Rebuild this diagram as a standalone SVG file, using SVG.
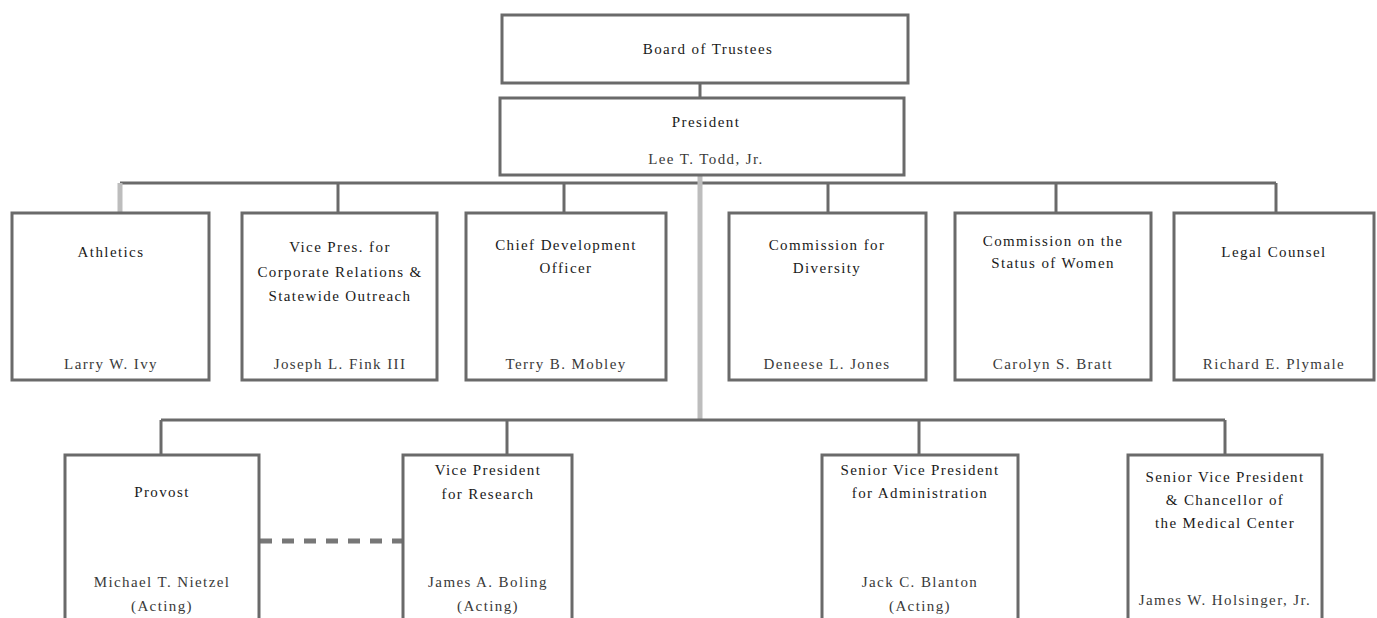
<svg xmlns="http://www.w3.org/2000/svg" width="1377" height="618" viewBox="0 0 1377 618">
<style>
.box{fill:#fff;stroke:#6a6a6a;stroke-width:3}
.ln{stroke:#6a6a6a;stroke-width:3;fill:none}
.lg{stroke:#bdbdbd;stroke-width:5;fill:none}
.dash{stroke:#777;stroke-width:5;stroke-dasharray:12,10;fill:none}
text{font-family:"Liberation Serif","Times New Roman",serif;font-size:15px;letter-spacing:1.4px;text-anchor:middle}
.t{fill:#1a1a1a}
.n{fill:#3a3a3a}
</style>
<rect width="1377" height="618" fill="#fff"/>
<g id="connectors">
<line class="ln" x1="700" y1="83" x2="700" y2="98"/>
<line class="ln" x1="120" y1="183" x2="1276" y2="183"/>
<line class="lg" x1="120" y1="183" x2="120" y2="213"/>
<line class="ln" x1="338" y1="183" x2="338" y2="213"/>
<line class="ln" x1="564" y1="183" x2="564" y2="213"/>
<line class="ln" x1="828" y1="183" x2="828" y2="213"/>
<line class="ln" x1="1056" y1="183" x2="1056" y2="213"/>
<line class="ln" x1="1276" y1="183" x2="1276" y2="213"/>
<line class="lg" x1="700" y1="175" x2="700" y2="420"/>
<line class="ln" x1="161" y1="420" x2="1225" y2="420"/>
<line class="ln" x1="161" y1="420" x2="161" y2="455"/>
<line class="ln" x1="507" y1="420" x2="507" y2="455"/>
<line class="ln" x1="919" y1="420" x2="919" y2="455"/>
<line class="ln" x1="1225" y1="420" x2="1225" y2="455"/>
<line class="dash" x1="260" y1="541" x2="403" y2="541"/>
</g>
<g id="board">
<rect class="box" x="502" y="15" width="406" height="68"/>
<text class="t" x="708" y="54">Board of Trustees</text>
</g>
<g id="president">
<rect class="box" x="500" y="98" width="404" height="77"/>
<text class="t" x="706" y="127">President</text>
<text class="n" x="706" y="164">Lee T. Todd, Jr.</text>
</g>
<g id="athletics">
<rect class="box" x="12" y="213" width="197" height="167"/>
<text class="t" x="111" y="257">Athletics</text>
<text class="n" x="111" y="369">Larry W. Ivy</text>
</g>
<g id="vp-corporate">
<rect class="box" x="242" y="213" width="195" height="167"/>
<text class="t" x="340" y="252">Vice Pres. for</text>
<text class="t" x="340" y="277">Corporate Relations &amp;</text>
<text class="t" x="340" y="301">Statewide Outreach</text>
<text class="n" x="340" y="369">Joseph L. Fink III</text>
</g>
<g id="chief-development">
<rect class="box" x="466" y="213" width="200" height="167"/>
<text class="t" x="566" y="250">Chief Development</text>
<text class="t" x="566" y="273">Officer</text>
<text class="n" x="566" y="369">Terry B. Mobley</text>
</g>
<g id="diversity">
<rect class="box" x="729" y="213" width="197" height="167"/>
<text class="t" x="827" y="250">Commission for</text>
<text class="t" x="827" y="273">Diversity</text>
<text class="n" x="827" y="369">Deneese L. Jones</text>
</g>
<g id="status-women">
<rect class="box" x="955" y="213" width="196" height="167"/>
<text class="t" x="1053" y="246">Commission on the</text>
<text class="t" x="1053" y="268">Status of Women</text>
<text class="n" x="1053" y="369">Carolyn S. Bratt</text>
</g>
<g id="legal">
<rect class="box" x="1174" y="213" width="200" height="167"/>
<text class="t" x="1274" y="257">Legal Counsel</text>
<text class="n" x="1274" y="369">Richard E. Plymale</text>
</g>
<g id="provost">
<rect class="box" x="65" y="455" width="194" height="180"/>
<text class="t" x="162" y="497">Provost</text>
<text class="n" x="162" y="587">Michael T. Nietzel</text>
<text class="n" x="162" y="611">(Acting)</text>
</g>
<g id="vp-research">
<rect class="box" x="403" y="455" width="169" height="180"/>
<text class="t" x="488" y="475">Vice President</text>
<text class="t" x="488" y="499">for Research</text>
<text class="n" x="488" y="587">James A. Boling</text>
<text class="n" x="488" y="611">(Acting)</text>
</g>
<g id="svp-admin">
<rect class="box" x="822" y="455" width="196" height="180"/>
<text class="t" x="920" y="475">Senior Vice President</text>
<text class="t" x="920" y="498">for Administration</text>
<text class="n" x="920" y="587">Jack C. Blanton</text>
<text class="n" x="920" y="611">(Acting)</text>
</g>
<g id="svp-medical">
<rect class="box" x="1128" y="455" width="194" height="180"/>
<text class="t" x="1225" y="482">Senior Vice President</text>
<text class="t" x="1225" y="505">&amp; Chancellor of</text>
<text class="t" x="1225" y="528">the Medical Center</text>
<text class="n" x="1225" y="605">James W. Holsinger, Jr.</text>
</g>
</svg>
